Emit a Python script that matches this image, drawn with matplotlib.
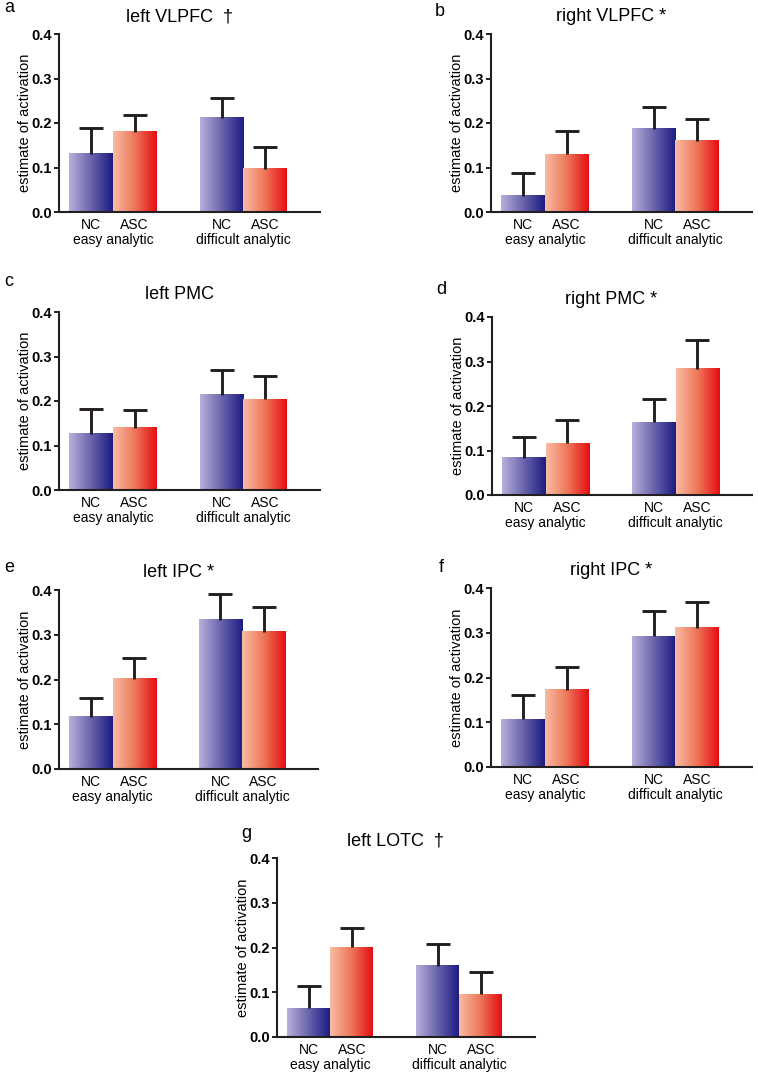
import numpy as np
import matplotlib
matplotlib.use('Agg')
import matplotlib.pyplot as plt
from matplotlib.colors import LinearSegmentedColormap
from matplotlib.transforms import blended_transform_factory

plt.rcParams['font.family'] = ['Liberation Sans', 'DejaVu Sans']

# bar order: NC easy, ASC easy, NC difficult, ASC difficult
groups = ['NC', 'ASC', 'NC', 'ASC']
conditions = ['easy analytic', 'difficult analytic']
letters = ['a', 'b', 'c', 'd', 'e', 'f', 'g']
titles = ['left VLPFC  \u2020', 'right VLPFC *', 'left PMC', 'right PMC *',
          'left IPC *', 'right IPC *', 'left LOTC  \u2020']

l_vlpfc_mean = [0.131, 0.180, 0.212, 0.097]
l_vlpfc_err = [0.057, 0.039, 0.044, 0.048]
r_vlpfc_mean = [0.036, 0.130, 0.187, 0.160]
r_vlpfc_err = [0.052, 0.052, 0.050, 0.048]
l_pmc_mean = [0.126, 0.140, 0.214, 0.204]
l_pmc_err = [0.056, 0.040, 0.056, 0.052]
r_pmc_mean = [0.084, 0.116, 0.163, 0.284]
r_pmc_err = [0.046, 0.052, 0.053, 0.064]
l_ipc_mean = [0.117, 0.202, 0.333, 0.307]
l_ipc_err = [0.041, 0.046, 0.058, 0.054]
r_ipc_mean = [0.107, 0.173, 0.292, 0.311]
r_ipc_err = [0.054, 0.051, 0.056, 0.057]
l_lotc_mean = [0.064, 0.201, 0.159, 0.096]
l_lotc_err = [0.050, 0.043, 0.049, 0.050]

means = [l_vlpfc_mean, r_vlpfc_mean, l_pmc_mean, r_pmc_mean,
         l_ipc_mean, r_ipc_mean, l_lotc_mean]
errs = [l_vlpfc_err, r_vlpfc_err, l_pmc_err, r_pmc_err,
        l_ipc_err, r_ipc_err, l_lotc_err]

W, H = 758, 1074
# axes boxes in pixels: x0, y0(top), x1, y1(bottom)
boxes = [(59, 34, 320, 212), (491, 34, 752, 212),
         (59, 312, 320, 490), (492, 317, 752, 495),
         (59, 590, 318, 769), (491, 588, 752, 767),
         (277, 858, 535, 1037)]
letter_pos = [(9, 8), (440, 12), (9, 282), (441, 290),
              (9, 567), (441, 567), (246, 833)]

dark = '#231f20'
nc_cmap = LinearSegmentedColormap.from_list('nc', ['#b8b0da', '#6a64ac', '#1c1c82'])
asc_cmap = LinearSegmentedColormap.from_list('asc', ['#f8bca4', '#ee7658', '#e60c12'])
grad = np.linspace(0, 1, 256).reshape(1, -1)

centers = np.array([0.5, 1.5, 3.5, 4.5])
bw = 1.0

fig = plt.figure(figsize=(W / 100, H / 100), dpi=100)

for i in range(7):
    x0, y0, x1, y1 = boxes[i]
    ax = fig.add_axes([x0 / W, 1 - y1 / H, (x1 - x0) / W, (y1 - y0) / H])
    for j, c in enumerate(centers):
        cmap = nc_cmap if groups[j] == 'NC' else asc_cmap
        ax.imshow(grad, cmap=cmap, aspect='auto', zorder=2,
                  extent=(c - bw / 2, c + bw / 2, 0, means[i][j]))
    eb = ax.errorbar(centers, means[i], yerr=[np.zeros(4), errs[i]], fmt='none',
                     ecolor=dark, elinewidth=2.1, capsize=8.5, capthick=2.1, zorder=3)
    # only the upper cap is shown
    eb[1][0].set_visible(False)
    ax.set_xlim(-0.24, 5.76)
    ax.set_ylim(0, 0.4)
    ax.set_yticks([0.0, 0.1, 0.2, 0.3, 0.4])
    ax.set_yticklabels(['%.1f' % v for v in [0.0, 0.1, 0.2, 0.3, 0.4]],
                       fontweight='bold', fontsize=10.5)
    ax.set_xticks(centers)
    ax.set_xticklabels(groups, fontsize=10)
    ax.tick_params(axis='x', length=0, pad=4)
    ax.tick_params(axis='y', length=3.5, width=1.4, color=dark, pad=1.5)
    for s in ['top', 'right']:
        ax.spines[s].set_visible(False)
    for s in ['left', 'bottom']:
        ax.spines[s].set_linewidth(1.5)
        ax.spines[s].set_color(dark)
    ax.set_ylabel('estimate of activation', fontsize=10.5, labelpad=-0.5)
    trans = blended_transform_factory(ax.transData, ax.transAxes)
    for k, cond in enumerate(conditions):
        ax.annotate(cond, xy=(centers[2 * k:2 * k + 2].mean(), 0), xycoords=trans,
                    xytext=(0, -20.5), textcoords='offset points',
                    ha='center', va='center', fontsize=10)
    ax.text(0.46, 1.05, titles[i], transform=ax.transAxes, ha='center',
            va='bottom', fontsize=13)
    lx, ly = letter_pos[i]
    fig.text(lx / W, 1 - ly / H, letters[i], fontsize=13, ha='center', va='center')

plt.savefig('out.png', dpi=100)
